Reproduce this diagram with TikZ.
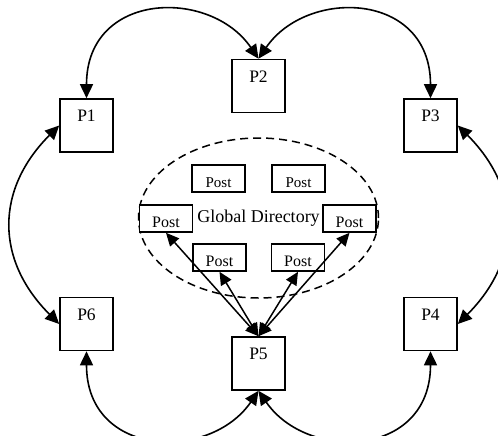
\documentclass[tikz,border=0pt]{standalone}
\usepackage{fontspec}
\setmainfont{Liberation Serif}
\usetikzlibrary{arrows.meta,shapes.geometric}
\begin{document}
\begin{tikzpicture}[x=1pt,y=-1pt,
  proc/.style={draw, line width=1.6pt, minimum width=53pt, minimum height=53pt, inner sep=0pt,
    label={[anchor=north, inner sep=0pt, yshift=-12pt, font=\fontsize{17.5}{20}\selectfont]north:#1}},
  post/.style={draw, fill=white, line width=1.6pt, minimum width=53pt, minimum height=27pt, inner sep=0pt,
    label={[anchor=base, inner sep=0pt, yshift=5pt, font=\fontsize{#1}{#1}\selectfont]south:Post}},
  post/.default=16,
  directory/.style={draw, ellipse, line width=1.5pt, dash pattern=on 8pt off 5pt,
    minimum width=240pt, minimum height=160pt, inner sep=0pt, font=\fontsize{18}{21}\selectfont},
  link/.style={line width=1.6pt, {Triangle[length=14pt,width=13pt]}-{Triangle[length=14pt,width=13pt]}},
  reach/.style={line width=1.5pt, {Triangle[length=13pt,width=12pt]}-{Triangle[length=13pt,width=12pt]}},
]
\path[use as bounding box, clip] (0,0) rectangle (498,436);

% shared directory
\node[directory] (dir) at (258.5,218) {Global Directory};

% directory entries
\node[post=15] (tl) at (218.5,178.5) {};
\node[post=15] (tr) at (298.5,178.5) {};
\node[post] (ml) at (166,218.5) {};
\node[post] (mr) at (349.5,218.5) {};
\node[post] (bl) at (219.5,257.5) {};
\node[post] (br) at (298,257.5) {};

% processes
\node[proc=P1] (P1) at (86.5,125.5) {};
\node[proc=P2] (P2) at (258.5,86) {};
\node[proc=P3] (P3) at (430.5,125.5) {};
\node[proc=P4] (P4) at (430.5,324) {};
\node[proc=P5] (P5) at (258.5,363.5) {};
\node[proc=P6] (P6) at (86.5,324) {};

% ring of neighbour links
\draw[link] (P2.north) .. controls +(-48.5,-71) and +(0,-107) .. (P1.north);
\draw[link] (P2.north) .. controls +(48.5,-71) and +(0,-107) .. (P3.north);
\draw[link] (P5.south) .. controls +(-48.5,71) and +(0,107) .. (P6.south);
\draw[link] (P5.south) .. controls +(48.5,71) and +(0,107) .. (P4.south);
\draw[link] (P1.west) .. controls +(-64,64) and +(-64,-64) .. (P6.west);
\draw[link] (P3.east) .. controls +(64,64) and +(64,-64) .. (P4.east);

% P5 reaching into the directory
\draw[reach] (P5.north) -- (ml.south);
\draw[reach] (P5.north) -- (bl.south);
\draw[reach] (P5.north) -- (br.south);
\draw[reach] (P5.north) -- (mr.south);
\end{tikzpicture}
\end{document}
